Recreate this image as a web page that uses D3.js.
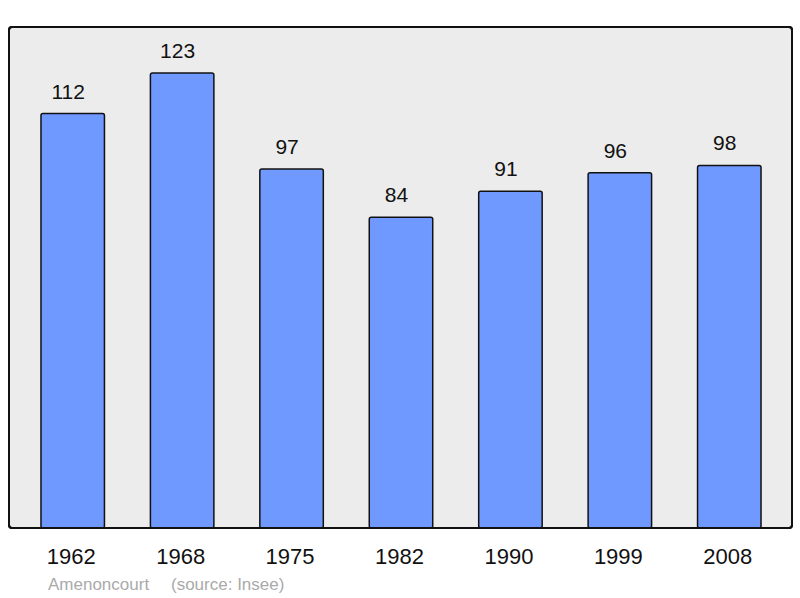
<!DOCTYPE html>
<html><head><meta charset="utf-8">
<script src="https://cdn.jsdelivr.net/npm/d3@7"></script>
<style>body{margin:0;background:#fff}svg{display:block;font-family:"Liberation Sans",Arial,sans-serif}</style>
</head><body>
<svg id="c" width="800" height="598"></svg>
<script>
const years = ["1962","1968","1975","1982","1990","1999","2008"];
const population = [112,123,97,84,91,96,98];
const town = "Amenoncourt";
const source = "(source: Insee)";

const svg = d3.select("#c");
const x = d3.scaleBand().domain(years).range([18,784]).paddingInner(0.42).paddingOuter(0.21);
const y = d3.scaleLinear().domain([0,135.4]).range([528,27]);

svg.append("rect").attr("x",9).attr("y",27).attr("width",783).attr("height",501)
  .attr("rx",3).attr("fill","#ececec").attr("stroke","#111").attr("stroke-width",2);

svg.selectAll("rect.bar").data(population).join("rect").attr("class","bar")
  .attr("x",(d,i)=>x(years[i])).attr("y",d=>y(d))
  .attr("width",x.bandwidth()).attr("height",d=>y(0)-y(d))
  .attr("rx",2).attr("fill","#7099ff").attr("stroke","#111").attr("stroke-width",1.5);

svg.selectAll("text.val").data(population).join("text").attr("class","val")
  .attr("x",(d,i)=>x(years[i])+x.bandwidth()/2-4.5).attr("y",d=>y(d)-15)
  .attr("text-anchor","middle").attr("font-size",21).attr("fill","#111").text(d=>d);

svg.append("rect").attr("x",9).attr("y",27).attr("width",783).attr("height",501)
  .attr("rx",3).attr("fill","none").attr("stroke","#111").attr("stroke-width",2);

const xAxis = d3.axisBottom(x).tickSize(0).tickPadding(0);
const ax = svg.append("g").attr("transform","translate(-1.5,564)").call(xAxis);
ax.select(".domain").remove();
ax.selectAll("text").attr("font-size",22).attr("fill","#111").attr("dy",0)
  .attr("font-family","Liberation Sans, Arial, sans-serif");

svg.append("text").attr("x",48).attr("y",590).attr("font-size",17).attr("fill","#aaa").text(town);
svg.append("text").attr("x",171).attr("y",590).attr("font-size",17).attr("fill","#aaa").text(source);
</script>
</body></html>
